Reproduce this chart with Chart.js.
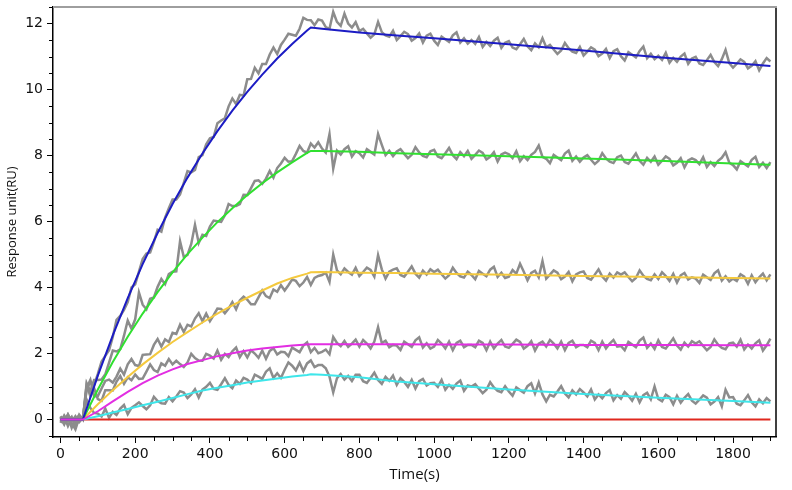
<!DOCTYPE html>
<html>
<head>
<meta charset="utf-8">
<script src="https://cdn.jsdelivr.net/npm/chart.js@4.4.1/dist/chart.umd.min.js"></script>
<style>
  html, body { margin: 0; padding: 0; background: #fff; }
  #wrap { width: 792px; height: 490px; }
</style>
</head>
<body>
<div id="wrap"><canvas id="sensorgram" width="792" height="490"></canvas></div>
<script>
// fitted curves (1:1 binding model), sampled times in seconds
const fitTime = [0,60,100,140,180,220,260,300,340,380,420,460,500,540,580,620,660,670,700,800,900,1000,1200,1400,1600,1800,1900];
const fitBlue    = [0,0,1.33,2.55,3.68,4.71,5.65,6.53,7.33,8.06,8.74,9.36,9.93,10.45,10.94,11.38,11.79,11.88,11.84,11.73,11.64,11.55,11.37,11.18,10.98,10.80,10.71];
const fitGreen   = [0,0,0.91,1.74,2.51,3.21,3.86,4.46,5.01,5.51,5.98,6.40,6.80,7.16,7.49,7.79,8.08,8.14,8.14,8.11,8.07,8.04,7.98,7.91,7.84,7.76,7.72];
const fitYellow  = [0,0,0.46,0.89,1.29,1.67,2.02,2.35,2.65,2.94,3.21,3.46,3.69,3.91,4.12,4.29,4.42,4.46,4.47,4.45,4.44,4.42,4.39,4.35,4.32,4.29,4.27];
const fitMagenta = [0,0,0.25,0.55,0.84,1.10,1.33,1.52,1.68,1.80,1.92,2.01,2.09,2.15,2.20,2.24,2.27,2.28,2.28,2.28,2.28,2.27,2.27,2.26,2.26,2.25,2.25];
const fitCyan    = [0,0,0.10,0.21,0.32,0.43,0.54,0.65,0.77,0.88,0.96,1.04,1.12,1.18,1.24,1.30,1.35,1.37,1.36,1.28,1.15,1.07,0.91,0.77,0.66,0.56,0.51];
const fitRed     = [0,0,0,0,0,0,0,0,0,0,0,0,0,0,0,0,0,0,0,0,0,0,0,0,0,0,0];

// measured responses, one value every 10 s
const rawTime = [
  0,10,20,30,40,50,60,70,80,90,
  100,110,120,130,140,150,160,170,180,190,
  200,210,220,230,240,250,260,270,280,290,
  300,310,320,330,340,350,360,370,380,390,
  400,410,420,430,440,450,460,470,480,490,
  500,510,520,530,540,550,560,570,580,590,
  600,610,620,630,640,650,660,670,680,690,
  700,710,720,730,740,750,760,770,780,790,
  800,810,820,830,840,850,860,870,880,890,
  900,910,920,930,940,950,960,970,980,990,
  1000,1010,1020,1030,1040,1050,1060,1070,1080,1090,
  1100,1110,1120,1130,1140,1150,1160,1170,1180,1190,
  1200,1210,1220,1230,1240,1250,1260,1270,1280,1290,
  1300,1310,1320,1330,1340,1350,1360,1370,1380,1390,
  1400,1410,1420,1430,1440,1450,1460,1470,1480,1490,
  1500,1510,1520,1530,1540,1550,1560,1570,1580,1590,
  1600,1610,1620,1630,1640,1650,1660,1670,1680,1690,
  1700,1710,1720,1730,1740,1750,1760,1770,1780,1790,
  1800,1810,1820,1830,1840,1850,1860,1870,1880,1890,
  1900
];
const rawBlue = [
  0.08,-0.12,0.15,-0.05,0.10,-0.08,0.05,0.90,1.15,1.05,
  1.38,1.76,1.93,2.10,2.50,3.02,3.14,3.32,3.56,4.00,
  4.10,4.48,4.86,5.03,5.06,5.38,5.75,5.69,6.12,6.40,
  6.67,6.67,6.82,7.17,7.53,7.49,7.56,7.95,8.01,8.34,
  8.52,8.56,8.98,9.06,9.13,9.49,9.73,9.56,9.84,9.82,
  10.31,10.32,10.66,10.49,10.77,10.77,11.06,11.27,11.08,11.35,
  11.51,11.69,11.66,11.63,11.84,12.17,12.11,12.10,11.95,12.12,
  12.09,11.89,11.84,12.35,12.05,11.93,12.30,12.00,11.88,12.04,
  11.77,11.84,11.70,11.57,11.67,12.05,11.74,11.64,11.60,11.78,
  11.50,11.62,11.75,11.68,11.48,11.56,11.70,11.42,11.63,11.69,
  11.48,11.35,11.60,11.52,11.44,11.64,11.73,11.42,11.55,11.39,
  11.50,11.38,11.59,11.29,11.44,11.32,11.48,11.57,11.26,11.42,
  11.47,11.27,11.22,11.37,11.53,11.31,11.19,11.40,11.28,11.55,
  11.28,11.35,11.21,11.08,11.18,11.41,11.25,11.15,11.11,11.29,
  11.03,11.15,11.28,11.21,11.01,11.09,11.23,10.95,11.16,11.22,
  11.01,10.88,11.13,11.05,10.97,11.17,11.30,10.95,11.08,10.92,
  11.02,10.90,11.11,10.81,10.96,10.84,11.00,11.09,10.78,10.94,
  10.99,10.79,10.74,10.89,11.05,10.83,10.71,10.92,11.20,10.80,
  10.66,10.78,10.91,10.84,10.64,10.72,10.86,10.58,10.79,10.95,
  10.85
];
const rawGreen = [
  -0.10,0.12,-0.05,0.08,-0.20,0.05,0.00,1.10,0.85,1.20,
  1.20,1.21,1.37,1.72,2.09,2.06,2.13,2.54,3.00,2.75,
  3.04,3.85,3.48,3.34,3.66,3.70,4.02,4.26,4.10,4.41,
  4.48,4.49,5.40,4.93,4.99,5.32,5.90,5.35,5.60,5.56,
  5.85,6.03,6.01,5.99,6.19,6.53,6.47,6.47,6.53,6.81,
  6.80,7.01,7.23,7.25,7.14,7.30,7.53,7.33,7.62,7.76,
  7.93,7.81,7.83,8.05,8.29,8.14,8.09,8.36,8.24,8.40,
  8.21,8.09,8.65,7.60,8.15,8.03,8.19,8.28,7.97,8.13,
  8.07,7.94,8.19,8.11,8.03,8.65,8.32,8.01,8.14,7.98,
  8.12,8.19,8.05,7.92,8.02,8.25,8.09,7.99,7.95,8.13,
  8.17,7.97,7.92,8.07,8.23,8.01,7.89,8.10,7.98,8.14,
  7.90,8.02,8.15,8.08,7.88,7.96,8.10,7.82,8.03,8.09,
  8.04,7.92,8.13,7.83,7.98,7.86,8.02,8.11,8.30,7.96,
  7.90,7.77,8.02,7.94,7.86,8.06,8.15,7.84,7.97,7.81,
  7.94,8.01,7.87,7.74,7.84,8.07,7.91,7.81,7.77,7.95,
  8.00,7.80,7.75,7.90,8.06,7.84,7.72,7.93,7.81,7.97,
  7.72,7.84,7.97,7.90,7.70,7.78,7.92,7.64,7.85,7.91,
  7.86,7.74,7.95,7.65,7.80,7.68,7.84,7.93,8.10,7.78,
  7.71,7.58,7.83,7.75,7.67,7.87,7.96,7.65,7.78,7.62,
  7.80
];
const rawYellow = [
  0.05,-0.15,0.10,-0.25,0.00,0.12,0.00,0.95,1.20,0.70,
  0.71,0.94,1.17,1.21,1.12,1.30,1.54,1.36,1.67,1.83,
  1.65,1.62,1.96,1.97,1.98,2.26,2.44,2.21,2.43,2.35,
  2.63,2.59,2.87,2.65,2.87,2.82,3.06,3.22,2.98,3.21,
  2.98,3.16,3.36,3.35,3.22,3.36,3.56,3.34,3.61,3.72,
  3.63,3.49,3.49,3.70,3.91,3.74,3.68,3.94,3.87,4.07,
  3.91,4.07,4.24,4.20,4.04,4.15,4.32,4.08,4.29,4.35,
  4.38,4.45,4.17,5.00,4.52,4.40,4.58,4.47,4.39,4.60,
  4.35,4.47,4.60,4.53,4.33,4.98,4.55,4.27,4.48,4.54,
  4.58,4.38,4.33,4.48,4.64,4.42,4.30,4.51,4.39,4.55,
  4.47,4.54,4.40,4.27,4.37,4.60,4.44,4.34,4.30,4.48,
  4.38,4.25,4.50,4.42,4.34,4.54,4.63,4.32,4.45,4.29,
  4.33,4.53,4.42,4.72,4.48,4.22,4.44,4.51,4.31,4.80,
  4.27,4.39,4.52,4.45,4.25,4.33,4.47,4.19,4.40,4.46,
  4.49,4.29,4.24,4.39,4.55,4.33,4.21,4.42,4.30,4.46,
  4.39,4.46,4.32,4.19,4.29,4.52,4.36,4.26,4.22,4.40,
  4.26,4.46,4.35,4.20,4.41,4.15,4.37,4.44,4.24,4.31,
  4.27,4.14,4.39,4.31,4.23,4.43,4.52,4.21,4.34,4.18,
  4.27,4.20,4.40,4.33,4.11,4.37,4.16,4.31,4.42,4.22,
  4.40
];
const rawMagenta = [
  -0.05,0.10,-0.20,0.05,-0.10,0.15,0.00,1.05,0.70,0.95,
  0.62,0.57,0.89,0.89,0.88,1.15,1.32,1.08,1.28,1.19,
  1.36,1.23,1.24,1.45,1.67,1.50,1.44,1.70,1.63,1.83,
  1.67,1.78,1.68,1.59,1.73,1.99,1.86,1.79,1.78,1.99,
  1.94,1.85,2.09,1.81,1.99,1.89,2.07,2.18,1.89,2.07,
  1.88,2.10,2.00,1.87,2.09,1.84,2.08,2.16,1.97,2.05,
  2.04,1.92,2.18,2.11,2.04,2.24,2.34,2.04,2.17,2.01,
  2.05,2.12,1.98,2.50,2.32,2.22,2.38,2.20,2.30,2.42,
  2.21,2.41,2.30,2.15,2.36,2.80,2.32,2.39,2.19,2.26,
  2.24,2.11,2.36,2.28,2.20,2.40,2.49,2.18,2.31,2.15,
  2.21,2.41,2.30,2.15,2.36,2.10,2.32,2.39,2.19,2.26,
  2.26,2.19,2.39,2.32,2.10,2.36,2.15,2.30,2.41,2.21,
  2.17,2.29,2.42,2.35,2.15,2.23,2.37,2.09,2.30,2.36,
  2.21,2.41,2.30,2.15,2.36,2.10,2.32,2.39,2.19,2.26,
  2.26,2.19,2.39,2.32,2.10,2.36,2.15,2.30,2.41,2.21,
  2.23,2.10,2.35,2.27,2.19,2.39,2.48,2.17,2.30,2.14,
  2.40,2.20,2.15,2.30,2.46,2.24,2.12,2.33,2.21,2.37,
  2.30,2.37,2.23,2.10,2.20,2.43,2.27,2.17,2.13,2.31,
  2.33,2.21,2.42,2.12,2.27,2.15,2.31,2.40,2.09,2.25,
  2.45
];
const rawCyan = [
  0.10,-0.05,0.15,-0.10,-0.30,0.05,0.00,0.60,0.35,0.20,
  0.18,0.09,0.33,0.05,0.23,0.14,0.33,0.44,0.16,0.35,
  0.43,0.52,0.41,0.31,0.43,0.69,0.56,0.49,0.48,0.68,
  0.55,0.70,0.86,0.82,0.65,0.76,0.92,0.67,0.91,0.99,
  1.11,0.93,0.90,1.07,1.25,1.05,0.95,1.18,1.08,1.26,
  1.21,1.10,1.36,1.30,1.23,1.45,1.55,1.26,1.40,1.26,
  1.51,1.73,1.63,1.49,1.72,1.47,1.70,1.79,1.59,1.65,
  1.65,1.55,1.30,0.82,1.25,1.38,1.21,1.32,1.17,1.36,
  1.36,1.16,1.11,1.26,1.42,1.20,1.08,1.29,1.17,1.33,
  1.05,1.25,1.14,0.99,1.20,0.94,1.16,1.23,1.03,1.10,
  1.11,0.99,1.20,0.90,1.05,0.93,1.09,1.18,0.87,1.03,
  1.00,1.07,0.93,0.80,0.90,1.13,0.97,0.87,0.83,1.01,
  0.85,0.72,0.97,0.89,0.81,1.01,1.10,0.79,1.12,0.76,
  0.55,0.75,0.70,0.85,1.01,0.79,0.67,0.88,0.76,0.92,
  0.82,0.70,0.91,0.61,0.76,0.64,0.80,0.89,0.58,0.74,
  0.63,0.83,0.72,0.57,0.78,0.52,0.74,0.81,0.61,1.00,
  0.62,0.55,0.75,0.68,0.46,0.72,0.51,0.66,0.77,0.57,
  0.48,0.60,0.73,0.66,0.46,0.54,0.68,0.40,0.90,0.67,
  0.68,0.48,0.43,0.58,0.74,0.52,0.40,0.61,0.49,0.65,
  0.55
];

const toPoints = (times, values) => times.map((t, i) => ({x: t, y: values[i]}))

const rawSets = [rawBlue, rawGreen, rawYellow, rawMagenta, rawCyan].map(vals => ({
    data: toPoints(rawTime, vals),
    borderColor: '#8c8c8c',
    borderWidth: 2.5,
    pointRadius: 0,
    order: 10
}))

// order: higher drawn first, magenta ends up on top at the baseline
const fitSets = [
    {vals: fitRed,     color: '#e0281e', order: 6},
    {vals: fitCyan,    color: '#3ee6ea', order: 5},
    {vals: fitYellow,  color: '#f4c93e', order: 4},
    {vals: fitGreen,   color: '#30e030', order: 3},
    {vals: fitBlue,    color: '#1c1cc4', order: 2},
    {vals: fitMagenta, color: '#e22ee2', order: 1},
].map(f => ({
    data: toPoints(fitTime, f.vals),
    borderColor: f.color,
    borderWidth: 2,
    pointRadius: 0,
    order: f.order
}))

// minor ticks + top/right frame
const framePlugin = {
    id: 'frame',
    afterDatasetsDraw(chart) {
        const {ctx, chartArea: a, scales: {x, y}} = chart
        ctx.save()
        ctx.strokeStyle = '#000'
        ctx.lineWidth = 1
        ctx.beginPath()
        for (let v = 0; v <= 1900; v += 50) {
            if (v % 200 === 0) continue
            const px = Math.round(x.getPixelForValue(v)) + 0.5
            ctx.moveTo(px, a.bottom)
            ctx.lineTo(px, a.bottom + 4)
        }
        for (let v = -0.5; v <= 12.5; v += 0.5) {
            if (v % 2 === 0) continue
            const py = Math.round(y.getPixelForValue(v)) + 0.5
            ctx.moveTo(a.left, py)
            ctx.lineTo(a.left - 4, py)
        }
        ctx.stroke()
        ctx.lineWidth = 1.5
        ctx.beginPath()
        ctx.moveTo(a.right, a.top)
        ctx.lineTo(a.right, a.bottom)
        ctx.stroke()
        ctx.strokeStyle = '#9e9e9e'
        ctx.lineWidth = 2
        ctx.beginPath()
        ctx.moveTo(a.left, a.top)
        ctx.lineTo(a.right + 1, a.top)
        ctx.stroke()
        ctx.restore()
    }
}

const tickFont = {family: 'DejaVu Sans', size: 14}

new Chart(document.getElementById('sensorgram'), {
    type: 'line',
    data: {datasets: [...fitSets, ...rawSets]},
    options: {
        responsive: false,
        animation: false,
        layout: {padding: {top: 7, right: 16, left: 0, bottom: 0}},
        plugins: {legend: {display: false}, tooltip: {enabled: false}},
        scales: {
            x: {
                type: 'linear',
                min: -20,
                max: 1915,
                afterFit: s => { s.height = 53; s.paddingLeft = 0; s.paddingRight = 0 },
                ticks: {stepSize: 200, includeBounds: false, color: '#111', font: tickFont,
                        padding: 3, maxRotation: 0, callback: v => String(v)},
                grid: {drawOnChartArea: false, tickLength: 6, tickColor: '#000'},
                border: {color: '#000', width: 1.5},
                title: {display: true, text: 'Time(s)', color: '#111',
                        font: {family: 'Open Sans', size: 15}, padding: {bottom: 6}}
            },
            y: {
                min: -0.53,
                max: 12.5,
                afterFit: s => { s.width = 53; s.paddingTop = 0; s.paddingBottom = 0 },
                ticks: {stepSize: 2, includeBounds: false, color: '#111', font: tickFont, padding: 4},
                grid: {drawOnChartArea: false, tickLength: 6, tickColor: '#000'},
                border: {color: '#000', width: 1.5},
                title: {display: true, text: 'Response unit(RU)', color: '#111',
                        font: {family: 'Open Sans', size: 13}, padding: {top: 4}}
            }
        }
    },
    plugins: [framePlugin]
})
</script>
</body>
</html>
